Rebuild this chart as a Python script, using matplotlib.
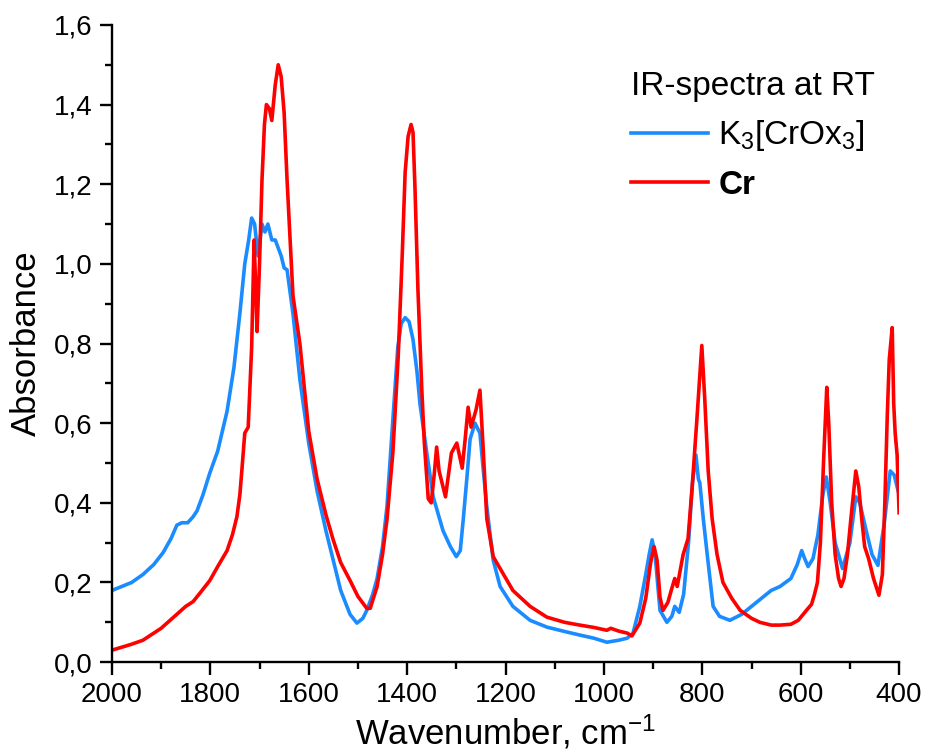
import matplotlib
matplotlib.use("Agg")
import matplotlib.pyplot as plt
from matplotlib.ticker import MultipleLocator, FuncFormatter
from matplotlib.lines import Line2D

plt.rcParams['font.family'] = ['Liberation Sans', 'DejaVu Sans']
plt.rcParams['mathtext.fontset'] = 'custom'
plt.rcParams['mathtext.rm'] = 'Liberation Sans'
plt.rcParams['mathtext.it'] = 'Liberation Sans:italic'

# K3[CrOx3] spectrum
k3_wn = [2000, 1960, 1937, 1915, 1896, 1880, 1868, 1858, 1846, 1835, 1827, 1815, 1801, 1785,
         1766, 1752, 1740, 1730, 1722, 1716, 1710, 1703, 1699, 1695, 1689, 1683, 1675, 1668,
         1662, 1656, 1650, 1644, 1632, 1618, 1600, 1583, 1565, 1551, 1535, 1516, 1502, 1490,
         1482, 1470, 1461, 1450, 1441, 1429, 1419, 1412, 1404, 1396, 1388, 1380, 1374, 1360,
         1347, 1327, 1312, 1300, 1292, 1286, 1278, 1272, 1262, 1252, 1245, 1238, 1225, 1211,
         1185, 1150, 1116, 1080, 1049, 1020, 994, 970, 953, 941, 927, 915, 908, 902, 896, 886,
         872, 862, 856, 850, 847, 838, 828, 820, 813, 808, 805, 798, 790, 778, 765, 744, 720,
         700, 680, 660, 642, 620, 607, 598, 592, 585, 575, 565, 555, 548, 540, 530, 515, 500,
         488, 480, 465, 455, 443, 430, 418, 410, 402]
k3_abs = [0.18, 0.20, 0.22, 0.245, 0.275, 0.31, 0.344, 0.35, 0.35, 0.365, 0.38, 0.42, 0.475, 0.53,
          0.63, 0.74, 0.875, 1.0, 1.06, 1.115, 1.10, 1.02, 1.06, 1.10, 1.08, 1.10, 1.06, 1.06,
          1.04, 1.02, 0.99, 0.985, 0.875, 0.71, 0.55, 0.43, 0.33, 0.26, 0.18, 0.12, 0.098, 0.11,
          0.13, 0.17, 0.21, 0.29, 0.39, 0.61, 0.79, 0.85, 0.865, 0.855, 0.81, 0.73, 0.65, 0.525,
          0.415, 0.33, 0.29, 0.265, 0.28, 0.357, 0.47, 0.56, 0.60, 0.575, 0.48, 0.39, 0.256, 0.19,
          0.14, 0.105, 0.088, 0.077, 0.068, 0.06, 0.05, 0.055, 0.06, 0.072, 0.14, 0.22, 0.27, 0.307, 0.27, 0.13,
          0.10, 0.115, 0.14, 0.13, 0.125, 0.17, 0.30, 0.45, 0.52, 0.46, 0.45, 0.36, 0.27, 0.14, 0.115, 0.105, 0.12,
          0.14, 0.16, 0.18, 0.19, 0.21, 0.245, 0.28, 0.26, 0.24, 0.26, 0.32, 0.42, 0.465, 0.40, 0.30, 0.235, 0.30,
          0.415, 0.40, 0.32, 0.27, 0.243, 0.35, 0.48, 0.47, 0.43]

# Cr spectrum
cr_wn = [2000, 1960, 1937, 1900, 1868, 1850, 1835, 1820, 1801, 1785, 1766, 1755, 1746, 1740,
         1736, 1730, 1723, 1716, 1711, 1708, 1705, 1700, 1695, 1690, 1686, 1680, 1675, 1668,
         1662, 1656, 1650, 1644, 1632, 1618, 1600, 1583, 1565, 1551, 1535, 1516, 1500, 1482,
         1475, 1461, 1450, 1441, 1429, 1418, 1410, 1404, 1398, 1392, 1388, 1384, 1378, 1370,
         1365, 1357, 1351, 1345, 1340, 1335, 1322, 1316, 1310, 1299, 1288, 1282, 1276, 1270,
         1260, 1252, 1246, 1238, 1225, 1211, 1185, 1150, 1116, 1080, 1049, 1020, 994, 986, 970,
         953, 943, 927, 915, 905, 898, 892, 886, 880, 870, 862, 856, 851, 845, 839, 829, 820,
         811, 801, 795, 788, 780, 770, 758, 740, 723, 700, 683, 660, 642, 620, 605, 595, 585,
         578, 572, 566, 560, 553, 547, 543, 537, 530, 523, 518, 512, 505, 498, 488, 482, 476,
         470, 462, 452, 441, 434, 429, 424, 420, 414, 411, 408, 404, 400]
cr_abs = [0.03, 0.045, 0.055, 0.085, 0.12, 0.14, 0.152, 0.175, 0.205, 0.24, 0.28, 0.32, 0.365, 0.42,
          0.48, 0.575, 0.59, 0.79, 1.06, 0.95, 0.83, 1.0, 1.21, 1.35, 1.40, 1.39, 1.36, 1.45,
          1.50, 1.47, 1.38, 1.21, 0.92, 0.80, 0.58, 0.46, 0.37, 0.31, 0.25, 0.205, 0.165, 0.135,
          0.135, 0.19, 0.27, 0.357, 0.525, 0.77, 1.02, 1.23, 1.32, 1.35, 1.33, 1.19, 0.935, 0.68,
          0.55, 0.41, 0.40, 0.47, 0.54, 0.48, 0.415, 0.47, 0.525, 0.55, 0.487, 0.56, 0.64, 0.59,
          0.633, 0.683, 0.55, 0.36, 0.265, 0.235, 0.18, 0.14, 0.113, 0.10, 0.093, 0.087, 0.08, 0.085, 0.078,
          0.073, 0.066, 0.098, 0.16, 0.25, 0.29, 0.256, 0.163, 0.13, 0.15, 0.185, 0.21, 0.19, 0.23, 0.27, 0.31, 0.45,
          0.61, 0.795, 0.66, 0.48, 0.36, 0.27, 0.20, 0.16, 0.13, 0.11, 0.10, 0.093, 0.093, 0.095, 0.105, 0.12, 0.135,
          0.145, 0.17, 0.20, 0.30, 0.52, 0.69, 0.60, 0.40, 0.27, 0.21, 0.19, 0.21, 0.27, 0.36, 0.48, 0.44, 0.36,
          0.29, 0.26, 0.21, 0.168, 0.22, 0.40, 0.62, 0.76, 0.84, 0.65, 0.575, 0.52, 0.375]

fig = plt.figure(figsize=(9.25, 7.55), dpi=100)
ax = fig.add_axes([0.121, 0.123, 0.851, 0.844])

ax.plot(k3_wn, k3_abs, color='#1a8cff', lw=2.6)
ax.plot(cr_wn, cr_abs, color='#ff0000', lw=2.6)

ax.set_xlim(2000, 400)
ax.set_ylim(0, 1.6)
ax.xaxis.set_major_locator(MultipleLocator(200))
ax.xaxis.set_minor_locator(MultipleLocator(100))
ax.yaxis.set_major_locator(MultipleLocator(0.2))
ax.yaxis.set_minor_locator(MultipleLocator(0.1))
ax.yaxis.set_major_formatter(FuncFormatter(lambda v, p: f"{v:.1f}".replace('.', ',')))

for s in ['top', 'right']:
    ax.spines[s].set_visible(False)
for s in ['left', 'bottom']:
    ax.spines[s].set_linewidth(1.7)
ax.tick_params(which='major', direction='out', length=9, width=1.7, labelsize=20, pad=5)
ax.tick_params(which='minor', direction='out', length=5, width=1.7)

ax.set_xlabel('Wavenumber, cm$^{\\mathregular{-1}}$', fontsize=25, labelpad=4)
ax.set_ylabel('Absorbance', fontsize=25, labelpad=8)

handles = [Line2D([], [], color='#1a8cff', lw=2.6), Line2D([], [], color='#ff0000', lw=2.6)]
leg = ax.legend(handles, ['K$\\mathregular{_3}$[CrOx$\\mathregular{_3}$]', 'Cr'],
                title='IR-spectra at RT', title_fontsize=24, fontsize=24,
                loc='upper left', bbox_to_anchor=(0.66, 0.928), frameon=False,
                handlelength=2.3, handletextpad=0.3, borderaxespad=0, borderpad=0,
                labelspacing=0.5, alignment='left')
leg.get_texts()[1].set_fontweight('bold')

fig.savefig('out.png', dpi=100)
